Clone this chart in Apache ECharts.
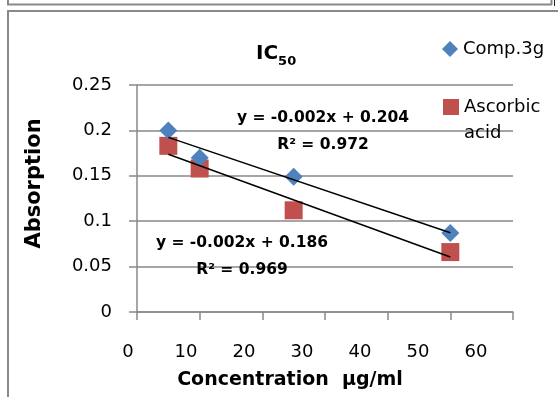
<!DOCTYPE html>
<html>
<head>
<meta charset="utf-8">
<script src="https://cdn.jsdelivr.net/npm/echarts@6/dist/echarts.min.js"></script>
<style>
html,body{margin:0;padding:0;background:#fff;}
#chart{width:558px;height:397px;}
</style>
</head>
<body>
<div id="chart"></div>
<script>
// ---- data ----
var concentrations = [5, 10, 25, 50];
var comp3g = [0.2, 0.17, 0.149, 0.087];
var ascorbic = [0.183, 0.158, 0.112, 0.066];
var seriesNames = ['Comp.3g', 'Ascorbic acid'];
var equationTexts = ['y = -0.002x + 0.204', 'R² = 0.972', 'y = -0.002x + 0.186', 'R² = 0.969'];
var xTicks = [0, 10, 20, 30, 40, 50, 60];
var yTicks = [0, 0.05, 0.1, 0.15, 0.2, 0.25];

// least-squares linear trendline (as the spreadsheet computes it)
function fit(xs, ys) {
  var n = xs.length, mx = 0, my = 0;
  for (var i = 0; i < n; i++) { mx += xs[i]; my += ys[i]; }
  mx /= n; my /= n;
  var sxy = 0, sxx = 0;
  for (var j = 0; j < n; j++) { sxy += (xs[j] - mx) * (ys[j] - my); sxx += (xs[j] - mx) * (xs[j] - mx); }
  var b = sxy / sxx, a = my - b * mx;
  var x0 = Math.min.apply(null, xs), x1 = Math.max.apply(null, xs);
  return [[x0, a + b * x0], [x1, a + b * x1]];
}
function pairs(xs, ys) { return xs.map(function (x, i) { return [x, ys[i]]; }); }

var FONT = 'DejaVu Sans';
var GRAY = '#898989';
var chart = echarts.init(document.getElementById('chart'), null, { renderer: 'canvas' });

var option = {
  backgroundColor: '#ffffff',
  animation: false,
  title: {
    text: '{a|IC}{b|50}',
    left: 256, top: 40, padding: 0,
    textStyle: {
      rich: {
        a: { fontFamily: FONT, fontSize: 20, fontWeight: 'bold', color: '#000', lineHeight: 24, verticalAlign: 'bottom' },
        b: { fontFamily: FONT, fontSize: 13, fontWeight: 'bold', color: '#000', verticalAlign: 'bottom', lineHeight: 15, padding: [0, 0, -4, 0] }
      }
    }
  },
  legend: [
    {
      data: [seriesNames[0]], left: 442, top: 40, padding: 0, itemWidth: 16, itemHeight: 16, itemGap: 0,
      textStyle: { fontFamily: FONT, fontSize: 18, color: '#000' }
    },
    {
      data: [seriesNames[1]], left: 443, top: 98, padding: 0, itemWidth: 16, itemHeight: 16, itemGap: 0,
      formatter: function () { return 'Ascorbic'; },
      textStyle: { fontFamily: FONT, fontSize: 18, color: '#000' }
    }
  ],
  grid: [
    { left: 137, right: 45, top: 85, bottom: 85 },
    { left: 128, right: 82, top: 85, bottom: 85 }
  ],
  xAxis: [
    {
      gridIndex: 0, type: 'value', min: xTicks[0], max: xTicks[xTicks.length - 1], interval: 10,
      axisLine: { show: true, lineStyle: { color: GRAY, width: 1.5 } },
      axisTick: { show: true, length: 8, lineStyle: { color: GRAY, width: 1.5 } },
      axisLabel: { show: false },
      splitLine: { show: false }
    },
    {
      gridIndex: 1, type: 'value', min: xTicks[0], max: xTicks[xTicks.length - 1], interval: 10,
      axisLine: { show: false }, axisTick: { show: false }, splitLine: { show: false },
      axisLabel: { show: true, margin: 31, fontFamily: FONT, fontSize: 18, color: '#000' },
      name: 'Concentration  µg/ml', nameLocation: 'middle', nameGap: 59,
      nameTextStyle: { fontFamily: FONT, fontSize: 19, fontWeight: 'bold', color: '#000', padding: [0, 24, 0, 0] }
    }
  ],
  yAxis: [
    {
      gridIndex: 0, type: 'value', min: yTicks[0], max: yTicks[yTicks.length - 1], interval: 0.05,
      axisLine: { show: true, lineStyle: { color: GRAY, width: 1.5 } },
      axisTick: { show: true, length: 8, lineStyle: { color: GRAY, width: 1.5 } },
      axisLabel: { show: true, margin: 25, fontFamily: FONT, fontSize: 18, color: '#000' },
      splitLine: { show: true, lineStyle: { color: GRAY, width: 1.5 } },
      name: 'Absorption', nameLocation: 'middle', nameGap: 92,
      nameTextStyle: { fontFamily: FONT, fontSize: 21, fontWeight: 'bold', color: '#000', padding: [0, 0, 0, 30] }
    },
    {
      gridIndex: 1, type: 'value', min: yTicks[0], max: yTicks[yTicks.length - 1], show: false
    }
  ],
  series: [
    {
      name: seriesNames[0], type: 'scatter', xAxisIndex: 0, yAxisIndex: 0,
      symbol: 'diamond', symbolSize: 18, z: 3,
      itemStyle: { color: '#4F81BD', opacity: 1 },
      data: pairs(concentrations, comp3g)
    },
    {
      name: seriesNames[1], type: 'scatter', xAxisIndex: 0, yAxisIndex: 0,
      symbol: 'rect', symbolSize: 18, z: 2,
      itemStyle: { color: '#C0504D', opacity: 1 },
      data: pairs(concentrations, ascorbic)
    },
    {
      name: 'trend1', type: 'line', xAxisIndex: 0, yAxisIndex: 0, showSymbol: false, silent: true, z: 5,
      lineStyle: { color: '#000', width: 1.5 }, data: fit(concentrations, comp3g)
    },
    {
      name: 'trend2', type: 'line', xAxisIndex: 0, yAxisIndex: 0, showSymbol: false, silent: true, z: 5,
      lineStyle: { color: '#000', width: 1.5 }, data: fit(concentrations, ascorbic)
    }
  ],
  graphic: [
    { type: 'line', shape: { x1: 8, y1: 0, x2: 8, y2: 5 }, style: { stroke: GRAY, lineWidth: 2 } },
    { type: 'line', shape: { x1: 7, y1: 4.5, x2: 552, y2: 4.5 }, style: { stroke: GRAY, lineWidth: 2 } },
    { type: 'line', shape: { x1: 551.5, y1: 0, x2: 551.5, y2: 5 }, style: { stroke: GRAY, lineWidth: 2 } },
    { type: 'line', shape: { x1: 554.5, y1: 0, x2: 554.5, y2: 6 }, style: { stroke: '#222', lineWidth: 1 } },
    { type: 'line', shape: { x1: 7, y1: 11, x2: 558, y2: 11 }, style: { stroke: GRAY, lineWidth: 2 } },
    { type: 'line', shape: { x1: 8, y1: 10, x2: 8, y2: 397 }, style: { stroke: GRAY, lineWidth: 2 } },
    { type: 'text', x: 464, y: 133, z: 10, style: { text: 'acid', fill: '#000', font: '18px "DejaVu Sans"', textAlign: 'left', textVerticalAlign: 'middle' } },
    { type: 'text', x: 323, y: 118, z: 10, style: { text: equationTexts[0], fill: '#000', font: 'bold 15.5px "DejaVu Sans"', textAlign: 'center', textVerticalAlign: 'middle' } },
    { type: 'text', x: 323, y: 145, z: 10, style: { text: equationTexts[1], fill: '#000', font: 'bold 15.5px "DejaVu Sans"', textAlign: 'center', textVerticalAlign: 'middle' } },
    { type: 'text', x: 242, y: 243, z: 10, style: { text: equationTexts[2], fill: '#000', font: 'bold 15.5px "DejaVu Sans"', textAlign: 'center', textVerticalAlign: 'middle' } },
    { type: 'text', x: 242, y: 270, z: 10, style: { text: equationTexts[3], fill: '#000', font: 'bold 15.5px "DejaVu Sans"', textAlign: 'center', textVerticalAlign: 'middle' } }
  ]
};
chart.setOption(option);
</script>
</body>
</html>
